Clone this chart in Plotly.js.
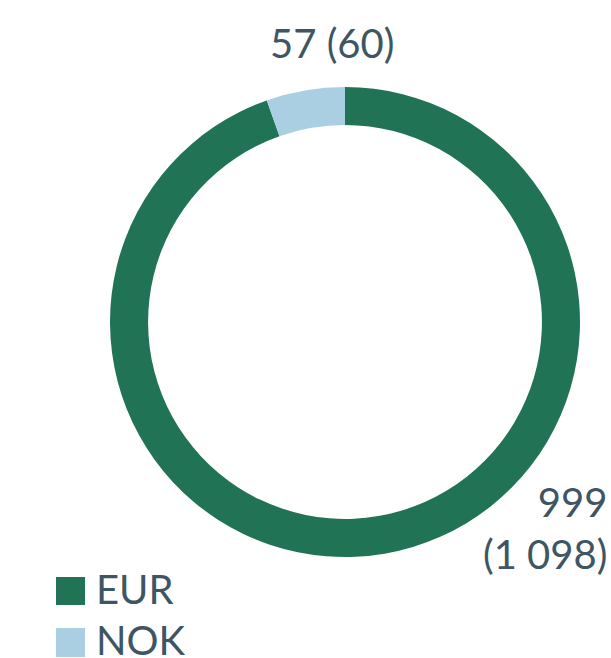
<!DOCTYPE html>
<html><head><meta charset="utf-8">
<script src="https://cdn.plot.ly/plotly-3.0.1.min.js"></script>
<style>html,body{margin:0;padding:0;background:#fff;}#chart{width:611px;height:658px;}</style>
</head><body><div id="chart"></div>
<script>
const categories = ["EUR", "NOK"];
const values = [999, 57];
const priorValues = ["1 098", "60"];
const colors = ["#217356", "#abcfe2"];

const W = 611, H = 658;
const txt = "#3e5663";
const FONT = "Lato, 'Open Sans', sans-serif";
const FS = 40;
const px = x => x / W, py = y => 1 - y / H;

const trace = {
  type: "pie", labels: categories, values: values, hole: 0.838,
  sort: false, direction: "clockwise", rotation: 0,
  marker: {colors: colors, line: {width: 0}},
  textinfo: "none", hoverinfo: "none", showlegend: false,
  domain: {x: [px(110), px(580)], y: [py(557), py(87)]}
};

const annotations = [
  {x: px(332), y: py(43), xref: "paper", yref: "paper", xanchor: "center", yanchor: "middle",
   text: values[1] + " (" + priorValues[1] + ")", showarrow: false, font: {size: FS, color: txt, family: FONT}},
  {x: px(609), y: py(528), xref: "paper", yref: "paper", xanchor: "right", yanchor: "middle", align: "right",
   text: values[0] + "<br>(" + priorValues[0] + ")", showarrow: false, font: {size: FS, color: txt, family: FONT}}
];
const shapes = [];
const legY = [589, 640];
categories.forEach((c, i) => {
  shapes.push({type: "rect", xref: "paper", yref: "paper", x0: px(56), x1: px(85), y0: py(i ? 657 : 605), y1: py(i ? 628 : 577),
    fillcolor: colors[i], line: {width: 0}});
  annotations.push({x: px(95), y: py(legY[i]), xref: "paper", yref: "paper", xanchor: "left", yanchor: "middle",
    text: c, showarrow: false, borderpad: 0, font: {size: FS, color: txt, family: FONT}});
});

Plotly.newPlot("chart", [trace], {
  width: W, height: H, margin: {l: 0, r: 0, t: 0, b: 0},
  paper_bgcolor: "#fff", plot_bgcolor: "#fff",
  annotations: annotations, shapes: shapes, showlegend: false
}, {staticPlot: true});
</script></body></html>
